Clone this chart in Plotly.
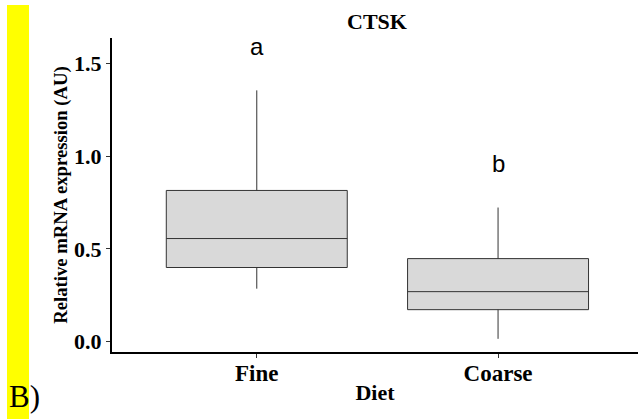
import plotly.graph_objects as go

categories = ["Fine", "Coarse"]
q1 = [0.40, 0.173]
median = [0.556, 0.27]
q3 = [0.815, 0.448]
lower = [0.286, 0.016]
upper = [1.354, 0.723]
letters = ["a", "b"]
letter_y = [1.59, 0.96]

fig = go.Figure()
fig.add_trace(go.Box(
    x=categories, q1=q1, median=median, q3=q3,
    lowerfence=lower, upperfence=upper,
    fillcolor="#D9D9D9", line=dict(color="#333333", width=1),
    whiskerwidth=0, width=0.75, boxpoints=False, showlegend=False,
    hoverinfo="skip",
))

for c, l, yy in zip(categories, letters, letter_y):
    fig.add_annotation(x=c, y=yy, xref="x", yref="y", text=l, showarrow=False,
                       font=dict(family="Liberation Sans, Arial", size=24, color="black"))

serif = "Liberation Serif, Times New Roman, serif"
W, H = 638, 419
L, R, T, B = 112, 0, 38, 67
pw, ph = W - L - R, H - T - B

def px2paper_x(px):
    return (px - L) / pw

def px2paper_y(py):
    return (H - B - py) / ph

fig.add_shape(type="rect", xref="paper", yref="paper",
              x0=px2paper_x(7), x1=px2paper_x(29), y0=px2paper_y(419), y1=px2paper_y(5),
              fillcolor="#FFFF00", line=dict(width=0), layer="below")
fig.add_annotation(xref="paper", yref="paper", x=px2paper_x(7), y=px2paper_y(396),
                   xanchor="left", yanchor="middle", text="B)", showarrow=False,
                   font=dict(family=serif, size=31, color="black"))

fig.update_layout(
    width=W, height=H,
    margin=dict(l=L, r=R, t=T, b=B),
    paper_bgcolor="white", plot_bgcolor="white",
    title=dict(text="<b>CTSK</b>", x=px2paper_x(377), xref="paper", xanchor="center",
               y=1 - 21 / H, yanchor="middle",
               font=dict(family=serif, size=22, color="black")),
    xaxis=dict(
        type="category", range=[-0.6, 1.58],
        showline=True, linecolor="black", linewidth=2, mirror=False,
        ticks="outside", ticklen=4, tickcolor="#333333", tickwidth=1,
        showgrid=False, zeroline=False, ticklabelstandoff=-5,
        tickfont=dict(family=serif, size=23, color="black", weight="bold"),
        title=dict(text="Diet", standoff=0,
                   font=dict(family=serif, size=22, color="black", weight="bold")),
    ),
    yaxis=dict(
        range=[-0.055, 1.636],
        tickvals=[0.0, 0.5, 1.0, 1.5], ticktext=["0.0", "0.5", "1.0", "1.5"],
        showline=True, linecolor="black", linewidth=2,
        ticks="outside", ticklen=4, tickcolor="#333333", tickwidth=1,
        showgrid=False, zeroline=False,
        tickfont=dict(family=serif, size=22, color="black", weight="bold"),
        title=dict(text="Relative mRNA expression (AU)", standoff=2,
                   font=dict(family=serif, size=18.7, color="black", weight="bold")),
    ),
)

fig.write_html("out.html")
